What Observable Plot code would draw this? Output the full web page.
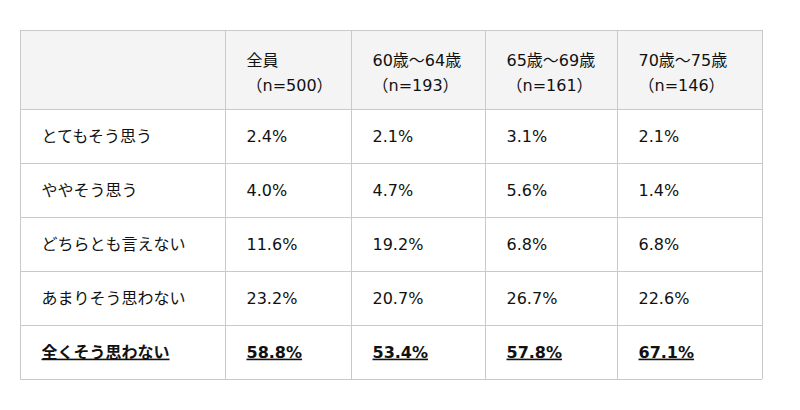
<!DOCTYPE html>
<html>
<head>
<meta charset="utf-8">
<script src="https://cdn.jsdelivr.net/npm/d3@7"></script>
<script src="https://cdn.jsdelivr.net/npm/@observablehq/plot@0.6"></script>
<style>
  html, body { margin: 0; padding: 0; background: #fff; }
</style>
</head>
<body>
<div id="chart"></div>
<script>
// ---- data ----
const rowLabels = ["とてもそう思う", "ややそう思う", "どちらとも言えない", "あまりそう思わない", "全くそう思わない"];
const groups = ["全員", "60歳～64歳", "65歳～69歳", "70歳～75歳"];
const groupN = [500, 193, 161, 146];
const valAll = [2.4, 4.0, 11.6, 23.2, 58.8];
const val6064 = [2.1, 4.7, 19.2, 20.7, 53.4];
const val6569 = [3.1, 5.6, 6.8, 26.7, 57.8];
const val7075 = [2.1, 1.4, 6.8, 22.6, 67.1];
const highlightRow = 4; // 全くそう思わない

// ---- layout ----
const tblLeft = 20, tblTop = 30;
const colWidths = [205, 126, 134, 132, 145];
const rowHeights = [79, 54, 54, 54, 54, 54];
const padX = 21;
const colEdges = colWidths.reduce((a, w) => (a.push(a[a.length - 1] + w), a), [tblLeft]);
const rowEdges = rowHeights.reduce((a, h) => (a.push(a[a.length - 1] + h), a), [tblTop]);
const series = [valAll, val6064, val6569, val7075];

const headerCells = groups.map((g, i) => ({
  x: colEdges[i + 1] + padX,
  y: (rowEdges[0] + rowEdges[1]) / 2,
  text: `${g}\n（n=${groupN[i]}）`
}));
const bodyCells = [];
rowLabels.forEach((lab, r) => {
  const y = (rowEdges[r + 1] + rowEdges[r + 2]) / 2;
  bodyCells.push({ x: colEdges[0] + padX, y, text: lab, bold: r === highlightRow });
  series.forEach((s, c) => {
    bodyCells.push({ x: colEdges[c + 1] + padX, y, text: s[r].toFixed(1) + "%", bold: r === highlightRow });
  });
});

const font = "DejaVu Sans, Noto Sans CJK JP, sans-serif";
const fontSize = 16;
const textColor = "#111";
const lineColor = "#c9c9c9";

const plot = Plot.plot({
  width: 800,
  height: 410,
  margin: 0,
  x: { type: "identity", axis: null },
  y: { type: "identity", axis: null },
  marks: [
    Plot.rect([0], {
      x1: () => colEdges[0], x2: () => colEdges[colEdges.length - 1],
      y1: () => rowEdges[0], y2: () => rowEdges[1],
      fill: "#f4f4f4"
    }),
    Plot.ruleY(rowEdges, {
      y: d => d, x1: () => colEdges[0], x2: () => colEdges[colEdges.length - 1],
      stroke: lineColor, strokeWidth: 1
    }),
    Plot.ruleX(colEdges, {
      x: d => d, y1: () => rowEdges[0], y2: () => rowEdges[rowEdges.length - 1],
      stroke: lineColor, strokeWidth: 1
    }),
    Plot.text(headerCells, {
      x: "x", y: "y", text: "text",
      textAnchor: "start", fontSize, lineHeight: 25 / fontSize,
      fontFamily: font, fill: textColor
    }),
    Plot.text(bodyCells.filter(d => !d.bold), {
      x: "x", y: "y", text: "text",
      textAnchor: "start", fontSize, fontFamily: font, fill: textColor
    }),
    Plot.text(bodyCells.filter(d => d.bold), {
      x: "x", y: "y", text: "text",
      textAnchor: "start", fontSize, fontWeight: "bold", fontFamily: font, fill: textColor
    })
  ]
});

d3.select(plot).style("font-family", font);
d3.select(plot).selectAll("g[font-weight='bold'] text")
  .style("text-decoration", "underline")
  .attr("text-decoration", "underline");
document.getElementById("chart").appendChild(plot);
</script>
</body>
</html>
